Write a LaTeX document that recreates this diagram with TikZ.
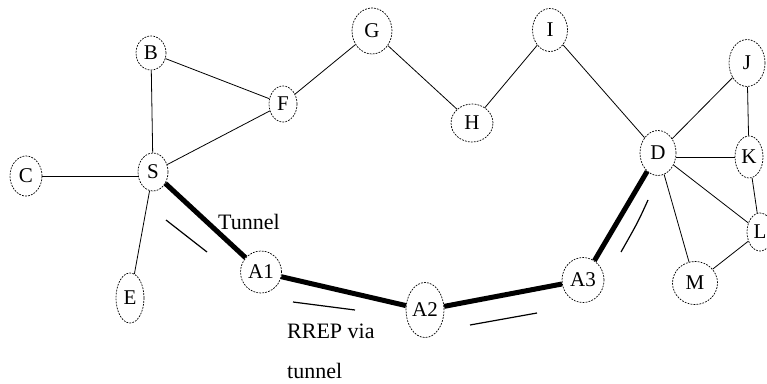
\documentclass[tikz,border=0pt]{standalone}
\usepackage{fontspec}
\setmainfont{Liberation Serif}
\usetikzlibrary{shapes.geometric}
\begin{document}
\begin{tikzpicture}[x=1pt,y=-1pt,
  nd/.style={ellipse,draw,dash pattern=on 1.8pt off 1.2pt,line width=0.7pt,inner sep=0pt,
    font=\fontsize{21}{23}\selectfont},
  edge/.style={line width=0.8pt},
  thick edge/.style={line width=5pt},
  mark line/.style={line width=1.2pt},
  lbl/.style={font=\fontsize{22}{24}\selectfont,inner sep=0pt,anchor=base west}]
\useasboundingbox (0,0) rectangle (767,383);
\node[nd,minimum width=30,minimum height=34] (B) at (151,53) {B};
\node[nd,minimum width=28,minimum height=36] (F) at (283,104) {F};
\node[nd,minimum width=30,minimum height=38] (S) at (153,172) {S};
\node[nd,minimum width=32,minimum height=40] (C) at (26,176) {C};
\node[nd,minimum width=28,minimum height=50] (E) at (130,298) {E};
\node[nd,minimum width=41,minimum height=42] (A1) at (261,272) {A1};
\node[nd,minimum width=40,minimum height=46] (G) at (372,31) {G};
\node[nd,minimum width=42,minimum height=38] (H) at (472,123) {H};
\node[nd,minimum width=35,minimum height=43] (I) at (550,30) {I};
\node[nd,minimum width=38,minimum height=55] (A2) at (425,310) {A2};
\node[nd,minimum width=42,minimum height=45] (A3) at (583,280) {A3};
\node[nd,minimum width=36,minimum height=47] (J) at (747,63) {J};
\node[nd,minimum width=36,minimum height=45] (D) at (658,153) {D};
\node[nd,minimum width=28,minimum height=42] (K) at (749,157) {K};
\node[nd,minimum width=26,minimum height=38] (L) at (760,232) {L};
\node[nd,minimum width=45,minimum height=43] (M) at (695,283) {M};

\draw[edge] (B) -- (S);
\draw[edge] (B) -- (F);
\draw[edge] (S) -- (F);
\draw[edge] (C.east) -- (C.east -| S.west);
\draw[edge] (S) -- (E);
\draw[edge] (F) -- (G);
\draw[edge] (G) -- (H);
\draw[edge] (H) -- (I);
\draw[edge] (I) -- (D);
\draw[edge] (D) -- (J);
\draw[edge] (J) -- (K);
\draw[edge] (K.west) -- (K.west -| D.east);
\draw[edge] (D) -- (L);
\draw[edge] (D) -- (M);
\draw[edge] (K) -- (L);
\draw[edge] (L) -- (M);

\draw[thick edge] (S) -- (A1);
\draw[thick edge] (A1) -- (A2);
\draw[thick edge] (A2) -- (A3);
\draw[thick edge] (A3) -- (D);

\coordinate (m1a) at (166,220); \coordinate (m1b) at (207,252);
\coordinate (m2a) at (293,302); \coordinate (m2b) at (355,310);
\coordinate (m3a) at (470,325); \coordinate (m3b) at (537,313);
\coordinate (m4a) at (648,200); \coordinate (m4b) at (621,252);
\draw[mark line] (m1a) -- (m1b);
\draw[mark line] (m2a) -- (m2b);
\draw[mark line] (m3a) -- (m3b);
\draw[mark line] (m4a) .. controls (638,222) .. (m4b);

\node[lbl] (t1) at (218,229) {Tunnel};
\node[lbl] (t2) at (287,338) {RREP via};
\node[lbl] (t3) at (287,378) {tunnel};
\end{tikzpicture}
\end{document}
